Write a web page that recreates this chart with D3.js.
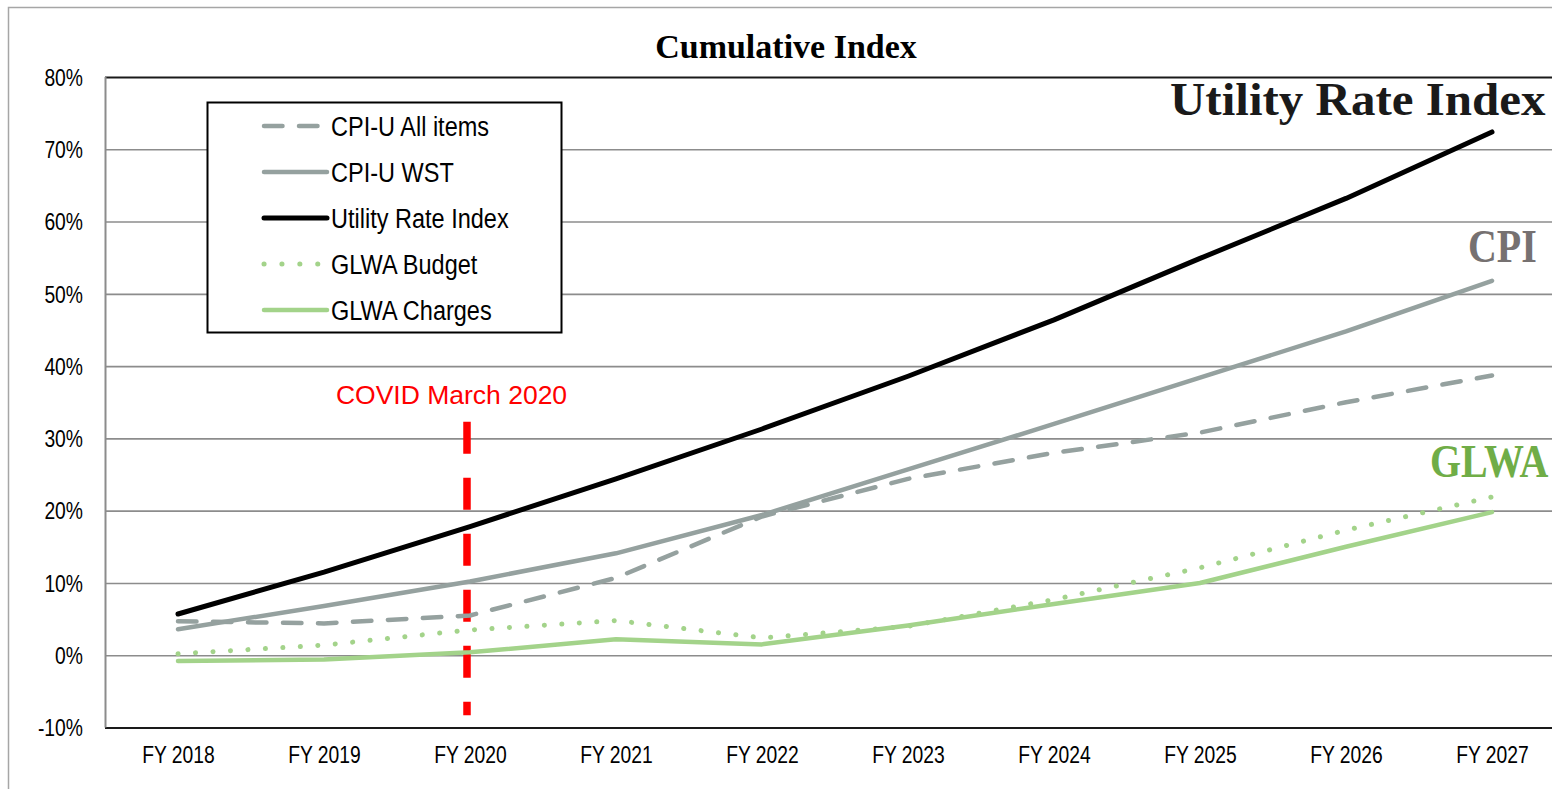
<!DOCTYPE html>
<html>
<head>
<meta charset="utf-8">
<script src="https://cdn.jsdelivr.net/npm/d3@7/dist/d3.min.js"></script>
<style>
  html, body { margin: 0; padding: 0; background: #fff; }
  svg { display: block; }
  .sans { font-family: "Liberation Sans Narrow", "Liberation Sans", Arial, sans-serif; }
  .serif { font-family: "Liberation Serif", "DejaVu Serif", serif; font-weight: bold; }
</style>
</head>
<body>
<svg id="chart" width="1552" height="789"></svg>
<script>
// ---- data ----
const categories = ["FY 2018","FY 2019","FY 2020","FY 2021","FY 2022","FY 2023","FY 2024","FY 2025","FY 2026","FY 2027"];
const cpiAllItems   = [4.7, 4.4, 5.5, 10.7, 19.2, 24.4, 28.0, 30.8, 35.0, 38.7];
const cpiWST        = [3.6, 6.8, 10.2, 14.1, 19.4, 25.7, 32.0, 38.4, 44.8, 51.8];
const utilityIndex  = [5.7, 11.5, 17.8, 24.4, 31.3, 38.6, 46.4, 54.9, 63.2, 72.4];
const glwaBudget    = [0.2, 1.4, 3.5, 4.8, 2.4, 4.0, 7.7, 12.1, 17.3, 21.9];
const glwaCharges   = [-0.8, -0.6, 0.4, 2.2, 1.5, 4.1, 7.1, 10.0, 15.0, 19.8];
const yTicks = [-10, 0, 10, 20, 30, 40, 50, 60, 70, 80];
const seriesNames = ["CPI-U All items","CPI-U WST","Utility Rate Index","GLWA Budget","GLWA Charges"];
const covidLine = { category: "FY 2020", from: 32.3, to: -8.3, label: "COVID March 2020", labelY: 34.8 };
const endLabels = [
  { text: "Utility Rate Index", category: "FY 2027", value: 74.7 },
  { text: "CPI", category: "FY 2027", value: 54.4 },
  { text: "GLWA", category: "FY 2027", value: 24.7 }
];

// ---- styles ----
const NARROW = 0.84;
const styles = {
  "CPI-U All items":    { color: "#95a19f", width: 4.5, dash: "18.5,16.5" },
  "CPI-U WST":          { color: "#95a19f", width: 4.5, dash: null },
  "Utility Rate Index": { color: "#000000", width: 5, dash: null },
  "GLWA Budget":        { color: "#a3d38a", width: 5, dash: "0.1,17.4" },
  "GLWA Charges":       { color: "#a3d38a", width: 4.5, dash: null }
};
const seriesValues = {
  "CPI-U All items": cpiAllItems,
  "CPI-U WST": cpiWST,
  "Utility Rate Index": utilityIndex,
  "GLWA Budget": glwaBudget,
  "GLWA Charges": glwaCharges
};

const svg = d3.select("#chart");
const plot = { left: 105, right: 1565, top: 77, bottom: 727.5 };

const x = d3.scalePoint().domain(categories).range([plot.left, plot.right]).padding(0.5);
const y = d3.scaleLinear().domain([-10, 80]).range([plot.bottom, plot.top]);

// outer chart border
svg.append("rect")
  .attr("x", 8.5).attr("y", 7.5).attr("width", 1700).attr("height", 900)
  .attr("fill", "none").attr("stroke", "#a6a6a6").attr("stroke-width", 1.5);

// title
svg.append("text").attr("class", "serif")
  .attr("x", 786).attr("y", 58).attr("text-anchor", "middle")
  .attr("font-size", 34).attr("fill", "#000")
  .text("Cumulative Index");

// grid lines + y labels
const yAxis = d3.axisLeft(y).tickValues(yTicks).tickSize(-(plot.right - plot.left)).tickFormat(d => d + "%");
const gy = svg.append("g").attr("transform", `translate(${plot.left},0)`).call(yAxis);
gy.select(".domain").remove();
gy.selectAll(".tick line").attr("stroke", "#8c8c8c").attr("stroke-width", 1.6);
gy.selectAll(".tick text").attr("class", "sans").attr("font-size", 23).attr("fill", "#000")
  .attr("x", -22 / NARROW).attr("dy", "0.36em")
  .attr("transform", `scale(${NARROW},1)`);
gy.selectAll(".tick").filter(d => d === 80 || d === -10).select("line").attr("stroke", "#1a1a1a").attr("stroke-width", 2);

// y axis line
svg.append("line").attr("x1", plot.left + 0.5).attr("x2", plot.left + 0.5)
  .attr("y1", plot.top).attr("y2", plot.bottom)
  .attr("stroke", "#8c8c8c").attr("stroke-width", 2);

// x axis labels
const xAxis = d3.axisBottom(x).tickSize(0).tickPadding(0);
const gx = svg.append("g").attr("transform", `translate(0,${plot.bottom})`).call(xAxis);
gx.select(".domain").remove();
gx.selectAll(".tick text").attr("class", "sans").attr("font-size", 23).attr("fill", "#000")
  .attr("y", 36).attr("dy", 0)
  .attr("transform", `scale(${NARROW},1)`);

// COVID line
svg.append("line")
  .attr("x1", x(covidLine.category) - 3).attr("x2", x(covidLine.category) - 3)
  .attr("y1", y(covidLine.from)).attr("y2", y(covidLine.to))
  .attr("stroke", "#ff0000").attr("stroke-width", 7.5).attr("stroke-dasharray", "32,24");
svg.append("text")
  .attr("x", x(covidLine.category) - 18.5).attr("y", y(covidLine.labelY))
  .attr("text-anchor", "middle")
  .attr("font-family", "'Liberation Sans', Arial, sans-serif").attr("font-size", 26.5).attr("fill", "#ff0000")
  .text(covidLine.label);

// series lines
const line = d3.line().x((d, i) => x(categories[i])).y(d => y(d));
const drawOrder = ["GLWA Budget", "GLWA Charges", "CPI-U All items", "CPI-U WST", "Utility Rate Index"];
drawOrder.forEach(name => {
  const s = styles[name];
  svg.append("path")
    .datum(seriesValues[name])
    .attr("d", line)
    .attr("fill", "none")
    .attr("stroke", s.color)
    .attr("stroke-width", s.width)
    .attr("stroke-linecap", "round")
    .attr("stroke-linejoin", "round")
    .attr("stroke-dasharray", s.dash);
});

// end labels (serif bold, horizontally fitted)
const endColors = ["#1a1a1a", "#767171", "#70ad47"];
const endSizes = [46, 47, 47];
const endOffsets = [-322, -24, -62];
const endScaleX = [1.065, 0.85, 0.85];
endLabels.forEach((d, i) => {
  svg.append("g")
    .attr("transform", `translate(${x(d.category) + endOffsets[i]},${y(d.value)}) scale(${endScaleX[i]},1)`)
    .append("text").attr("class", "serif")
    .attr("font-size", endSizes[i]).attr("fill", endColors[i])
    .text(d.text);
});

// legend
const legend = svg.append("g").attr("transform", "translate(207,102)");
legend.append("rect").attr("x", 0.5).attr("y", 0.5).attr("width", 354).attr("height", 230)
  .attr("fill", "#fff").attr("stroke", "#000").attr("stroke-width", 2);
seriesNames.forEach((name, i) => {
  const s = styles[name];
  const cy = 24 + i * 46;
  legend.append("line")
    .attr("x1", 57).attr("x2", 120).attr("y1", cy).attr("y2", cy)
    .attr("stroke", s.color).attr("stroke-width", s.width)
    .attr("stroke-linecap", "round")
    .attr("stroke-dasharray", name === "GLWA Budget" ? "0.1,17.8" : s.dash);
  legend.append("g")
    .attr("transform", `translate(124,${cy}) scale(${NARROW},1)`)
    .append("text").attr("class", "sans")
    .attr("dy", "0.36em")
    .attr("font-size", 28).attr("fill", "#000")
    .text(name);
});
</script>
</body>
</html>
